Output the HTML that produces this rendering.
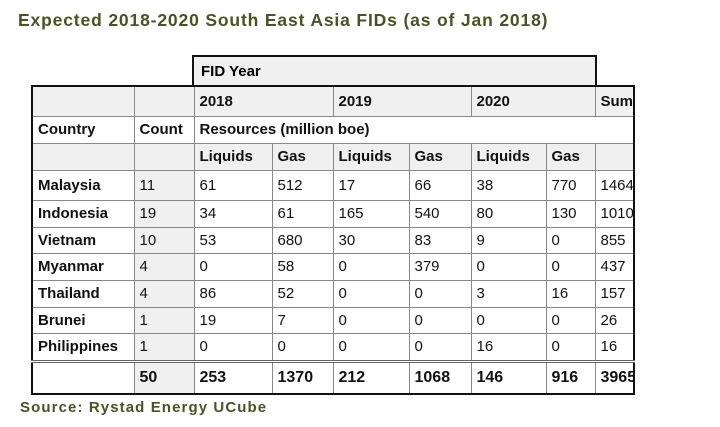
<!DOCTYPE html>
<html><head><meta charset="utf-8"><style>
body{margin:0;background:#fff;width:720px;height:427px;position:relative;overflow:hidden;font-family:"Liberation Sans",sans-serif;}
.title{position:absolute;left:18px;top:10px;font-size:17.5px;font-weight:bold;color:#4a5226;white-space:nowrap;letter-spacing:0.85px;}
.src{position:absolute;left:20px;top:399px;font-size:15px;font-weight:bold;color:#4a5226;letter-spacing:1.1px;white-space:nowrap;}
.fid{position:absolute;left:192px;top:55px;width:394px;height:28px;background:#f0f0f0;border:2px solid #111;border-bottom:none;font-size:15px;font-weight:bold;line-height:30px;padding-left:7px;box-sizing:content-box;}
table{position:absolute;left:31px;top:85px;width:602px;border-collapse:collapse;table-layout:fixed;border:2px solid #111;font-size:15px;}
td{border:1px solid #888;padding:0 0 0 5px;white-space:nowrap;overflow:hidden;color:#111;}
.h td{font-weight:bold;}
.g{background:#f0f0f0;}
.b{font-weight:bold;}
tr.tot td{border-top:3px double #666;font-weight:bold;font-size:16px;border-bottom:2px solid #111;}
tr.tot td:first-child{border-left:2px solid #111;}
tr.tot td:last-child{border-right:2px solid #111;}
</style></head><body>
<div class="title">Expected 2018-2020 South East Asia FIDs (as of Jan 2018)</div>
<div class="fid">FID Year</div>
<table>
<colgroup><col style="width:102px"><col style="width:60px"><col style="width:78px"><col style="width:61px"><col style="width:76px"><col style="width:62px"><col style="width:75px"><col style="width:49px"><col style="width:39px"></colgroup>
<tr class="h g" style="height:30px"><td></td><td></td><td colspan="2">2018</td><td colspan="2">2019</td><td colspan="2">2020</td><td>Sum</td></tr>
<tr class="h" style="height:27px"><td>Country</td><td>Count</td><td colspan="7" style="border-right:none">Resources (million boe)</td></tr>
<tr class="h g" style="height:27px"><td></td><td></td><td>Liquids</td><td>Gas</td><td>Liquids</td><td>Gas</td><td>Liquids</td><td>Gas</td><td></td></tr>
<tr style="height:30px"><td class="b">Malaysia</td><td class="g">11</td><td>61</td><td>512</td><td>17</td><td>66</td><td>38</td><td>770</td><td>1464</td></tr>
<tr style="height:27px"><td class="b">Indonesia</td><td class="g">19</td><td>34</td><td>61</td><td>165</td><td>540</td><td>80</td><td>130</td><td>1010</td></tr>
<tr style="height:26px"><td class="b">Vietnam</td><td class="g">10</td><td>53</td><td>680</td><td>30</td><td>83</td><td>9</td><td>0</td><td>855</td></tr>
<tr style="height:27px"><td class="b">Myanmar</td><td class="g">4</td><td>0</td><td>58</td><td>0</td><td>379</td><td>0</td><td>0</td><td>437</td></tr>
<tr style="height:27px"><td class="b">Thailand</td><td class="g">4</td><td>86</td><td>52</td><td>0</td><td>0</td><td>3</td><td>16</td><td>157</td></tr>
<tr style="height:26px"><td class="b">Brunei</td><td class="g">1</td><td>19</td><td>7</td><td>0</td><td>0</td><td>0</td><td>0</td><td>26</td></tr>
<tr style="height:28px"><td class="b">Philippines</td><td class="g">1</td><td>0</td><td>0</td><td>0</td><td>0</td><td>16</td><td>0</td><td>16</td></tr>
<tr class="tot" style="height:33px"><td></td><td class="g">50</td><td>253</td><td>1370</td><td>212</td><td>1068</td><td>146</td><td>916</td><td>3965</td></tr>
</table>
<div class="src">Source: Rystad Energy UCube</div>
</body></html>
